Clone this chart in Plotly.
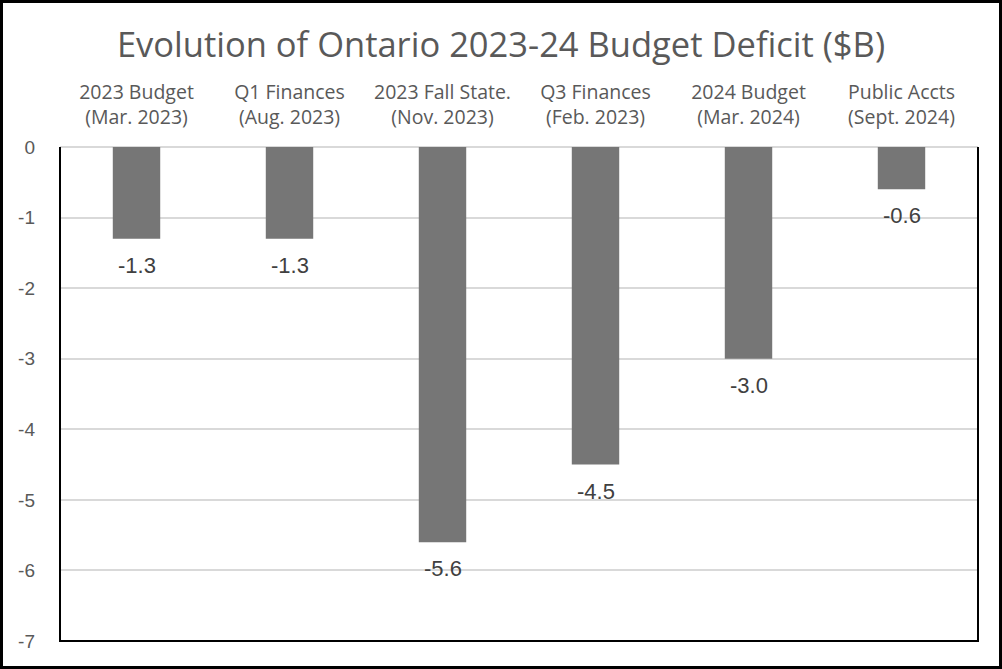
#!/usr/bin/env python3

import plotly.graph_objects as go

# Ontario 2023-24 deficit estimates at each fiscal update ($B)
categories = [
    "2023 Budget<br>(Mar. 2023)",
    "Q1 Finances<br>(Aug. 2023)",
    "2023 Fall State.<br>(Nov. 2023)",
    "Q3 Finances<br>(Feb. 2023)",
    "2024 Budget<br>(Mar. 2024)",
    "Public Accts<br>(Sept. 2024)",
]
deficit = [-1.3, -1.3, -5.6, -4.5, -3.0, -0.6]
y_ticks = [0, -1, -2, -3, -4, -5, -6, -7]

W, H = 1002, 669
margin = dict(l=60, r=24, t=147, b=28)
text_color = "#595959"
label_font = "Liberation Sans, Arial, sans-serif"
title_font = "Open Sans, Noto Sans, sans-serif"

fig = go.Figure()
fig.add_trace(
    go.Bar(
        x=categories,
        y=deficit,
        width=0.31,
        marker=dict(color="#767676", line=dict(width=0)),
        hovertemplate="%{x}<br>%{y:.1f}<extra></extra>",
    )
)

# value labels hang a little below each bar end
for cat, val in zip(categories, deficit):
    fig.add_annotation(
        x=cat,
        y=val,
        text=f"{val:.1f}",
        showarrow=False,
        yanchor="top",
        yshift=-12,
        font=dict(family=label_font, size=22, color="#404040"),
    )

# paper coords of the outer frame round the whole image
pw = W - margin["l"] - margin["r"]
ph = H - margin["t"] - margin["b"]
fx0 = (1.5 - margin["l"]) / pw
fx1 = (W - 1.5 - margin["l"]) / pw
fy0 = -(margin["b"] - 1.5) / ph
fy1 = 1 + (margin["t"] - 1.5) / ph

fig.update_layout(
    width=W,
    height=H,
    margin=margin,
    plot_bgcolor="white",
    paper_bgcolor="white",
    showlegend=False,
    title=dict(
        text="Evolution of Ontario 2023-24 Budget Deficit ($B)",
        x=0.5,
        xanchor="center",
        y=1 - 45 / H,
        yanchor="middle",
        font=dict(family=title_font, size=34.5, color=text_color),
    ),
    shapes=[
        dict(
            type="path",
            xref="paper",
            yref="paper",
            path="M0,1 L0,0 L1,0 L1,1",
            line=dict(color="black", width=2),
            layer="above",
        ),
        dict(
            type="rect",
            xref="paper",
            yref="paper",
            x0=fx0,
            x1=fx1,
            y0=fy0,
            y1=fy1,
            line=dict(color="black", width=3),
        ),
    ],
)

fig.update_xaxes(
    side="top",
    showline=False,
    showgrid=False,
    ticks="",
    ticklabelstandoff=18,
    tickfont=dict(family=title_font, size=19.5, color=text_color),
)
fig.update_yaxes(
    range=[-7, 0],
    tickvals=y_ticks,
    ticktext=[str(v) for v in y_ticks],
    showgrid=True,
    gridcolor="#d9d9d9",
    gridwidth=1.5,
    zeroline=True,
    zerolinecolor="#d9d9d9",
    zerolinewidth=1.5,
    showline=False,
    ticks="",
    ticklabelstandoff=24,
    tickfont=dict(family=label_font, size=19, color=text_color),
)

# drop the default page margin so the figure sits flush in the window
fig.write_html(
    "out.html",
    config={"displayModeBar": False},
    post_script="document.body.style.margin='0';document.body.style.overflow='hidden';",
)
